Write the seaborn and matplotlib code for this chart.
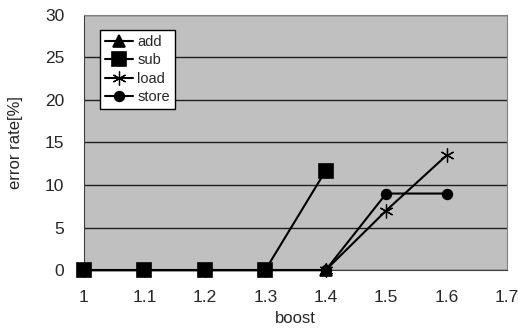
import matplotlib
matplotlib.use("Agg")
import matplotlib.pyplot as plt
import pandas as pd
import seaborn as sns

# data
boost = [1.0, 1.1, 1.2, 1.3, 1.4, 1.5, 1.6]
add = [0, 0, 0, 0, 0]
sub = [0, 0, 0, 0, 11.7]
load = [0, 0, 0, 0, 0, 7.0, 13.5]
store = [0, 0, 0, 0, 0, 9.0, 9.0]

sns.set_style("white")
plt.rcParams['font.family'] = ['Liberation Sans', 'DejaVu Sans']

fig = plt.figure(figsize=(5.18, 3.31), dpi=100)
ax = fig.add_axes([0.162, 0.184, 0.817, 0.771])
ax.set_facecolor('#c0c0c0')

series = [('add', add, '^', 8, 1.2), ('sub', sub, 's', 10, 1.2),
          ('load', load, (6, 2, 0), 10, 0.9), ('store', store, 'o', 7, 1.2)]
for name, vals, mk, ms, mew in series:
    df = pd.DataFrame({'boost': boost[:len(vals)], 'rate': vals})
    sns.lineplot(data=df, x='boost', y='rate', ax=ax, color='black', marker=mk,
                 markersize=ms, markeredgecolor='black', markeredgewidth=mew,
                 linewidth=1.5, label=name, zorder=3, clip_on=False)

ax.set_xlim(1.0, 1.7)
ax.set_ylim(0, 30)
ax.set_xticks([1.0, 1.1, 1.2, 1.3, 1.4, 1.5, 1.6, 1.7])
ax.set_xticklabels(['1', '1.1', '1.2', '1.3', '1.4', '1.5', '1.6', '1.7'])
ax.set_yticks([0, 5, 10, 15, 20, 25, 30])
ax.yaxis.grid(True, color='#202020', linewidth=1)
ax.xaxis.grid(False)
ax.tick_params(axis='x', direction='in', length=5, width=1, color='#404040', labelsize=12.5, pad=14)
ax.tick_params(axis='y', direction='out', length=4, width=1, color='#404040', labelsize=12.5, pad=10)
for s in ['left', 'bottom']:
    ax.spines[s].set_color('#404040')
for s in ['top', 'right']:
    ax.spines[s].set_color('#808080')
ax.set_xlabel('boost', fontsize=12, labelpad=5)
ax.set_ylabel('error rate[%]', fontsize=12, labelpad=16)

leg = ax.legend(loc='upper left', bbox_to_anchor=(0.038, 0.941), borderaxespad=0,
                frameon=True, fancybox=False, edgecolor='black', framealpha=1,
                fontsize=10.5, handlelength=1.9, handletextpad=0.3, labelspacing=0.3,
                borderpad=0.35)
leg.get_frame().set_linewidth(1)

fig.savefig('out.png', dpi=100)
